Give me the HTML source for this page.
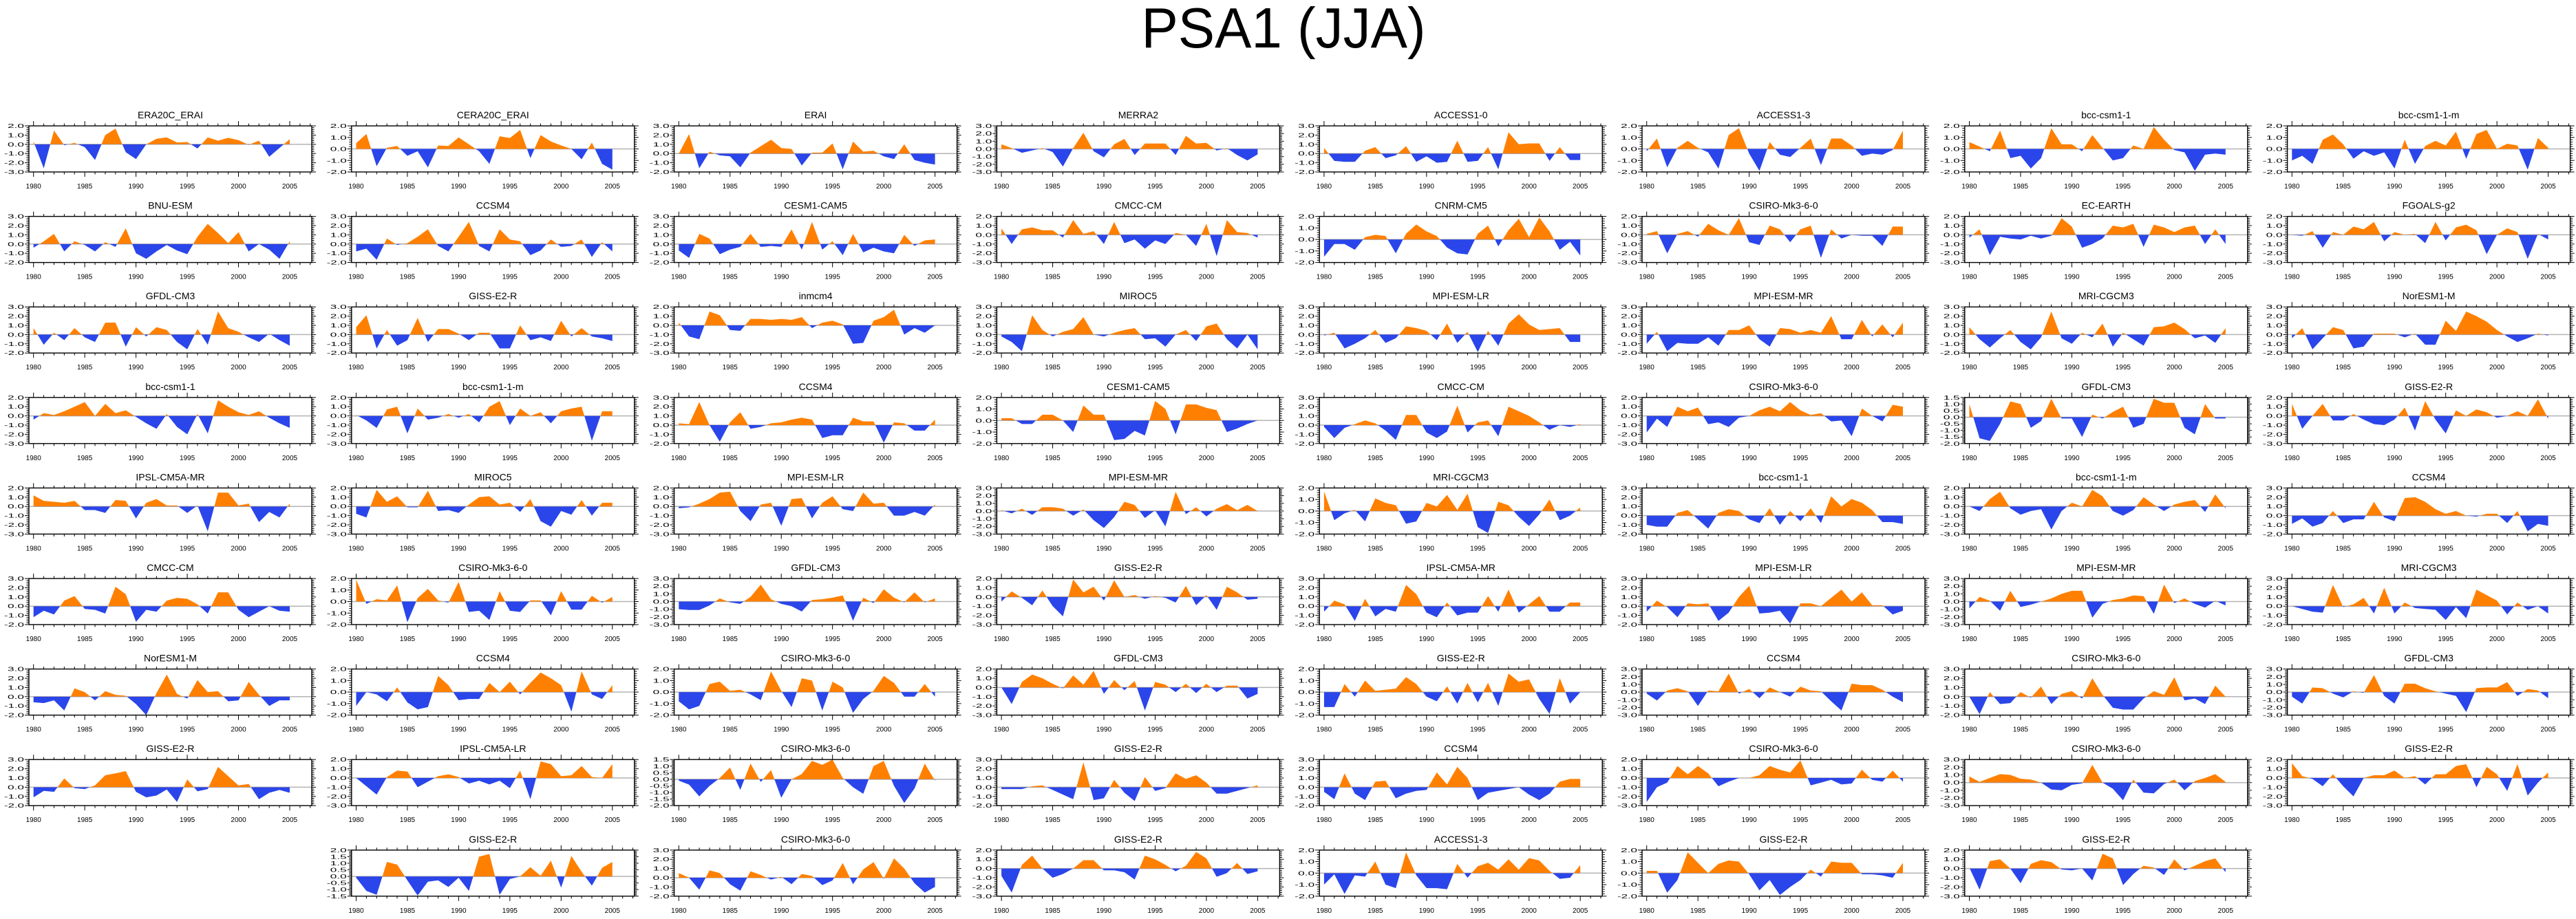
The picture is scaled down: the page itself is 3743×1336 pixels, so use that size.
<!DOCTYPE html>
<html>
<head>
<meta charset="utf-8">
<style>
  html, body { margin: 0; padding: 0; background: #fff; }
  svg { display: block; font-family: "Liberation Sans", Arial, sans-serif; }
</style>
</head>
<body>
<svg id="fig" width="3743" height="1336" viewBox="0 0 3743 1336" xmlns="http://www.w3.org/2000/svg">
  <rect x="0" y="0" width="3743" height="1336" fill="#ffffff"/>
  <text x="1865" y="69" font-size="83" text-anchor="middle" textLength="413" lengthAdjust="spacingAndGlyphs" fill="#000">PSA1 (JJA)</text>
  <g id="panels"></g>
</svg>
<script>
// ---------- data ----------
const years = [1980,1981,1982,1983,1984,1985,1986,1987,1988,1989,1990,1991,1992,1993,1994,1995,1996,1997,1998,1999,2000,2001,2002,2003,2004,2005];
const xTickLabels = ["1980","1985","1990","1995","2000","2005"];

const panelTitles = [
  "ERA20C_ERAI","CERA20C_ERAI","ERAI","MERRA2","ACCESS1-0","ACCESS1-3","bcc-csm1-1","bcc-csm1-1-m",
  "BNU-ESM","CCSM4","CESM1-CAM5","CMCC-CM","CNRM-CM5","CSIRO-Mk3-6-0","EC-EARTH","FGOALS-g2",
  "GFDL-CM3","GISS-E2-R","inmcm4","MIROC5","MPI-ESM-LR","MPI-ESM-MR","MRI-CGCM3","NorESM1-M",
  "bcc-csm1-1","bcc-csm1-1-m","CCSM4","CESM1-CAM5","CMCC-CM","CSIRO-Mk3-6-0","GFDL-CM3","GISS-E2-R",
  "IPSL-CM5A-MR","MIROC5","MPI-ESM-LR","MPI-ESM-MR","MRI-CGCM3","bcc-csm1-1","bcc-csm1-1-m","CCSM4",
  "CMCC-CM","CSIRO-Mk3-6-0","GFDL-CM3","GISS-E2-R","IPSL-CM5A-MR","MPI-ESM-LR","MPI-ESM-MR","MRI-CGCM3",
  "NorESM1-M","CCSM4","CSIRO-Mk3-6-0","GFDL-CM3","GISS-E2-R","CCSM4","CSIRO-Mk3-6-0","GFDL-CM3",
  "GISS-E2-R","IPSL-CM5A-LR","CSIRO-Mk3-6-0","GISS-E2-R","CCSM4","CSIRO-Mk3-6-0","CSIRO-Mk3-6-0","GISS-E2-R",
  "GISS-E2-R","CSIRO-Mk3-6-0","GISS-E2-R","ACCESS1-3","GISS-E2-R","GISS-E2-R"
];
const panelYMin = [
  -3,-2,-2,-3,-2,-2,-2,-2,
  -2,-2,-2,-3,-2,-3,-3,-3,
  -2,-2,-3,-2,-2,-2,-2,-2,
  -3,-3,-2,-2,-2,-3,-2,-3,
  -3,-3,-3,-3,-2,-2,-3,-2,
  -2,-2,-3,-3,-2,-2,-3,-2,
  -2,-2,-2,-3,-2,-3,-2,-3,
  -2,-3,-2,-2,-2,-3,-3,-3,
  -1.5,-2,-3,-2,-2,-3
];
const panelYMax = [
  2,2,3,3,3,2,2,2,
  3,3,3,2,2,2,2,2,
  3,3,2,3,3,3,3,3,
  2,2,3,2,3,2,1.5,2,
  2,2,2,3,2,3,2,3,
  3,2,3,2,3,3,3,3,
  3,2,2,2,2,3,3,3,
  3,2,1.5,3,3,2,3,2,
  2,3,2,2,2,2
];
const panelYStep = [
  1,1,1,1,1,1,1,1,
  1,1,1,1,1,1,1,1,
  1,1,1,1,1,1,1,1,
  1,1,1,1,1,1,0.5,1,
  1,1,1,1,1,1,1,1,
  1,1,1,1,1,1,1,1,
  1,1,1,1,1,1,1,1,
  1,1,0.5,1,1,1,1,1,
  0.5,1,1,1,1,1
];
const panelSeries = [
  [0.3,-2.6,1.5,-0.1,0.15,-0.3,-1.7,1.0,1.7,-0.85,-1.6,0.0,0.6,0.75,0.2,0.25,-0.45,0.75,0.4,0.7,0.45,-0.05,0.4,-1.35,-0.4,0.55],
  [0.5,1.3,-1.5,0.1,0.25,-0.6,-0.2,-1.6,0.3,0.25,1.0,0.4,-0.2,-1.3,1.1,0.95,1.65,-0.8,1.2,0.65,0.3,0.0,-0.9,0.55,-1.3,-1.8],
  [0.0,2.1,-1.6,0.2,-0.2,-0.3,-1.5,0.1,0.8,1.5,0.6,0.5,-1.3,0.1,0.1,1.1,-1.7,1.3,0.2,0.3,-0.3,-0.6,1.0,-0.7,-1.0,-1.2],
  [0.6,0.1,-0.5,-0.2,0.1,-0.4,-2.3,0.1,2.1,-0.3,-1.1,0.6,1.3,-0.8,0.7,0.7,0.7,-0.8,1.7,0.7,0.8,-0.2,0.1,-0.8,-1.5,-0.7],
  [0.6,-0.8,-0.9,-0.9,0.3,0.7,-0.5,-0.2,0.8,-0.9,-0.3,-1.0,-0.9,1.4,-0.9,-0.8,0.7,-1.7,2.3,1.0,1.1,1.1,-0.8,0.7,-0.7,-0.7],
  [-0.2,0.9,-1.6,0.1,0.7,0.1,-0.3,-1.7,1.2,1.8,-0.4,-1.9,0.6,-0.5,-0.7,0.1,0.9,-1.4,0.9,0.9,0.3,-0.6,-0.4,-0.5,-0.1,1.6],
  [0.6,0.2,-0.2,1.6,-0.8,-0.6,-1.7,-0.8,1.8,0.4,0.4,-0.2,1.2,0.1,-1.0,-0.8,0.3,0.0,1.9,0.8,-0.1,-0.3,-1.9,-0.5,-0.4,-0.5],
  [-1.0,-0.6,-1.3,0.8,1.25,0.4,-0.85,-0.2,-0.6,-0.3,-1.7,0.8,-1.3,0.25,0.7,0.3,1.5,-0.85,1.3,1.65,0.0,0.45,0.3,-1.8,0.95,0.1],

  [-0.4,0.3,1.1,-0.8,0.3,-0.1,-0.8,0.2,-0.3,1.7,-1.0,-1.6,-0.8,-0.1,-0.7,-1.1,0.8,2.2,1.2,0.1,1.3,-0.8,0.0,-0.6,-1.6,0.3],
  [-0.8,-0.5,-1.7,0.6,-0.1,0.1,0.8,1.6,-0.2,-0.8,0.8,2.4,-0.2,-0.8,1.6,0.5,0.3,-1.2,-0.7,0.5,-0.3,-0.2,0.5,-1.4,0.2,-0.8],
  [-0.7,-1.5,1.1,0.6,-1.1,-0.6,-0.3,1.1,-0.3,-0.2,-0.3,1.6,-0.6,2.4,-0.6,0.3,-1.2,1.1,-0.9,-0.4,-0.8,-1.0,1.0,-0.2,0.4,0.5],
  [0.7,-1.0,0.6,0.8,0.5,0.5,-0.3,1.6,0.1,0.4,-1.0,1.4,-0.9,-0.5,-1.5,-0.6,-1.0,0.2,0.0,-1.2,1.2,-2.3,1.6,0.3,0.2,-0.3],
  [-1.5,-0.4,-0.4,-0.9,0.2,0.4,0.3,-1.2,0.5,1.3,0.7,0.3,-0.7,-1.2,-1.3,0.5,1.2,-0.6,0.8,1.8,0.2,1.9,0.7,-0.9,-0.2,-1.4],
  [0.1,0.4,-2.0,0.1,0.4,-0.2,1.2,0.5,0.0,1.8,-0.8,-1.1,1.0,0.6,-0.8,0.6,1.0,-2.5,0.6,-0.4,0.0,-0.1,-0.1,-1.2,0.9,0.9],
  [-0.3,0.6,-2.2,-0.2,-0.4,-0.5,-0.1,-0.4,-0.1,1.8,0.9,-1.4,-1.0,-0.4,1.0,0.8,1.2,-1.3,1.1,0.8,0.3,0.8,1.0,-1.0,0.6,-1.0],
  [0.0,-0.1,0.4,-1.4,0.3,0.0,0.9,0.6,1.4,-0.7,0.3,0.0,0.1,-0.9,1.4,-0.6,0.8,1.1,0.5,-2.1,0.0,0.7,0.3,-2.6,0.1,-0.5],

  [0.7,-1.1,0.2,-0.6,0.7,-0.3,-0.8,1.3,1.3,-1.3,0.8,-0.2,0.8,0.5,-0.8,-1.6,0.6,-1.1,2.5,0.7,0.3,-0.3,-0.8,0.1,-0.6,-1.2],
  [0.8,2.1,-1.5,0.5,-1.2,-0.6,1.8,-0.8,0.6,0.6,0.1,-0.6,0.2,0.2,-1.5,-1.5,1.0,-0.6,-0.3,-0.7,1.5,-0.2,0.7,-0.2,-0.4,-0.7],
  [0.3,-1.2,-1.5,1.5,1.1,-0.5,-0.6,0.7,0.7,0.6,0.7,0.6,0.9,-0.3,0.3,0.5,0.1,-2.0,-1.9,0.5,0.9,1.7,-1.0,-0.3,-0.8,0.0],
  [-0.2,-0.8,-1.8,2.1,0.5,-0.2,0.3,0.6,1.9,0.0,-0.2,0.2,0.5,0.7,-0.5,-0.4,-1.3,0.0,0.5,-0.7,0.9,1.2,-0.5,-1.5,0.0,-1.6],
  [-0.1,0.2,-1.5,-1.0,-0.4,0.5,-0.9,-0.4,0.9,0.7,0.4,-0.6,1.2,-0.9,0.3,-1.9,0.4,-1.2,1.2,2.2,1.1,0.5,0.6,0.7,-0.8,-0.8],
  [-1.0,0.3,-1.8,-0.9,-1.0,-1.0,-0.3,-1.2,0.5,0.5,1.0,-0.5,-1.3,0.7,0.6,0.2,0.5,0.2,2.0,-0.5,-0.5,1.6,-0.2,1.1,-0.3,1.3],
  [0.8,-0.5,-1.4,-0.4,0.5,-0.8,-1.6,-0.3,2.5,-0.4,-1.0,0.2,-0.3,1.2,-1.3,0.2,-0.5,-1.2,0.8,0.9,1.3,0.6,-0.4,-0.1,-0.9,0.7],
  [-0.4,0.7,-1.6,-0.4,0.8,0.5,-1.5,-1.3,0.1,0.1,0.1,-0.3,0.1,-1.1,-1.1,1.5,0.4,2.5,2.0,1.4,0.5,-0.2,-0.8,-0.4,0.1,-0.1],

  [-0.4,0.3,0.1,0.5,1.0,1.5,0.0,1.3,0.3,0.6,-0.1,-0.8,-1.4,0.2,-1.2,-2.0,0.2,-1.9,1.7,1.0,0.4,0.1,0.5,-0.2,-0.8,-1.3],
  [0.1,-0.5,-1.3,0.7,1.0,-1.9,0.8,-0.4,-0.2,0.2,-0.2,0.2,-0.7,1.0,1.6,-1.0,0.8,0.0,0.4,-0.8,0.5,0.8,1.0,-2.7,0.5,0.5],
  [0.2,0.1,2.5,0.0,-1.8,0.3,1.4,-0.4,-0.2,0.2,0.3,0.6,0.8,0.6,-1.4,-1.1,-1.1,0.8,0.4,0.4,-1.9,0.3,0.2,-0.6,-0.6,0.6],
  [0.2,0.2,-0.3,-0.3,0.5,0.5,0.0,-1.0,1.3,0.5,0.5,-1.7,-1.6,-0.9,-1.3,1.7,1.0,-1.2,1.4,1.4,1.1,0.9,-1.0,-0.7,-0.3,0.0],
  [-0.2,-1.4,-0.3,0.1,0.5,0.2,-0.6,-1.6,1.1,1.1,-0.8,-1.4,-0.7,2.1,-0.8,0.3,0.5,-1.2,2.0,1.5,1.0,0.3,-0.5,0.0,-0.2,0.1],
  [-1.8,-0.3,-1.2,1.0,0.5,0.9,-0.9,-0.7,-1.2,-0.2,0.0,0.6,1.0,0.5,1.5,0.6,0.1,0.3,-0.6,-0.5,-2.2,0.8,0.0,-0.6,1.2,1.0],
  [1.0,-1.6,-1.8,-0.5,1.2,1.0,-0.8,-0.3,1.4,-0.1,-0.1,-1.5,0.2,-0.1,0.4,0.8,-0.8,-0.5,1.4,1.1,1.1,-0.8,-1.3,1.0,-0.1,-0.1],
  [1.3,-1.4,0.0,1.3,-0.5,-0.5,0.2,-0.4,-0.9,-1.0,-0.4,0.9,-1.6,1.6,-0.4,-1.9,0.6,0.0,0.7,0.4,-0.2,0.0,0.5,0.0,1.8,-0.3],

  [1.2,0.6,0.5,0.4,0.6,-0.4,-0.4,-0.7,0.7,0.6,-1.3,0.4,0.8,0.1,0.1,-0.7,0.1,-2.7,1.5,1.5,0.1,0.3,-1.7,-0.6,-1.2,0.3],
  [-0.8,-1.2,1.8,0.5,1.1,-0.1,-0.1,1.7,-0.5,-0.4,-0.7,0.2,1.0,1.1,0.2,0.4,-0.6,0.8,-1.6,-2.2,-0.5,-0.9,0.7,-1.0,0.4,0.4],
  [-0.2,-0.1,0.3,0.8,1.5,1.6,-0.5,-1.6,0.2,0.4,-2.1,0.8,0.9,-1.3,0.4,1.1,-0.3,-0.5,1.5,0.3,0.4,-1.0,-1.0,-0.6,-1.0,0.2],
  [0.1,-0.3,0.3,-0.5,0.5,0.5,0.3,-0.6,0.2,-1.2,-2.2,-0.8,1.2,0.8,-0.9,0.1,-2.0,2.5,-0.4,0.5,-0.7,0.3,0.9,0.1,0.8,0.0],
  [1.7,-0.8,-0.2,0.1,-0.9,1.1,0.7,0.5,-1.1,-0.9,0.7,0.4,1.4,0.1,1.5,-1.4,-1.9,0.8,0.5,-0.5,-1.3,-0.3,1.0,-0.8,-0.4,0.3],
  [-1.0,-1.2,-1.2,0.3,0.6,-0.4,-1.4,0.3,0.7,0.5,-0.4,-0.8,0.8,-1.0,0.5,-0.6,0.8,-0.8,2.1,1.0,1.8,1.4,0.6,-0.7,-0.7,-0.9],
  [0.0,-0.5,0.8,1.6,-0.2,-0.9,-0.5,-0.3,-2.5,-0.5,0.4,0.0,1.8,1.1,-0.5,-1.0,-0.4,1.0,0.2,-0.5,0.2,0.5,0.7,-0.6,1.3,-0.2],
  [-0.9,-0.3,-1.2,-0.8,0.5,-0.8,-0.4,-0.4,1.5,-0.2,-0.6,1.9,2.0,1.5,0.7,0.2,0.5,0.0,-0.1,0.2,0.2,-0.8,0.5,-1.7,-0.9,-1.1],

  [-1.2,-0.5,-0.9,0.6,1.1,-0.3,-0.4,-0.8,2.1,1.3,-1.7,-0.4,-0.6,0.6,0.9,0.8,0.2,-0.8,1.5,1.5,-0.4,-1.2,-0.6,0.0,-0.5,-0.6],
  [1.9,-0.2,0.2,0.1,1.4,-1.8,0.3,1.1,0.1,-0.1,1.7,-0.9,-0.8,-1.6,0.9,-0.8,-0.9,0.1,0.1,-1.2,0.9,-0.7,-0.7,0.5,-0.1,0.4],
  [-1.0,-1.1,-1.1,-0.5,0.4,-0.1,-0.3,0.6,2.2,0.3,-0.3,-0.6,-1.3,0.2,0.3,0.5,0.8,-2.5,0.5,-0.2,1.6,0.5,-0.1,1.2,-0.1,0.4],
  [-0.5,0.6,-0.1,-0.9,0.7,-1.0,-2.1,1.9,0.5,1.1,-0.4,1.8,0.0,0.2,-0.2,0.1,-0.1,-0.6,1.2,-0.9,0.2,-1.4,1.1,0.5,-0.3,-0.2],
  [-0.6,0.6,0.2,-1.6,0.8,-1.1,-0.3,-0.6,2.3,1.3,-0.7,-1.2,0.4,-1.0,-0.7,-0.7,1.1,-0.6,1.8,-0.7,0.2,1.1,-0.6,-0.6,0.4,0.4],
  [-0.6,0.6,-0.1,-1.2,0.3,0.2,0.3,-1.6,-0.7,1.0,2.2,-0.8,-0.7,-0.5,-1.9,0.3,0.3,0.0,0.9,1.8,0.5,1.5,0.1,0.1,-0.9,-0.5],
  [-0.9,0.6,0.1,-1.2,1.4,-0.7,-0.4,0.0,0.4,1.0,1.4,1.4,-2.1,-0.3,0.2,0.4,0.8,0.7,-1.6,2.2,-0.2,0.4,-0.3,-0.8,0.1,-0.5],
  [0.0,-0.3,-0.6,-0.7,2.3,-0.1,0.2,0.9,-0.8,2.0,-0.8,0.4,-0.2,-0.3,-0.4,-1.5,-0.1,-1.3,1.8,1.2,0.6,-0.9,0.4,-0.4,0.0,-0.8],

  [-0.6,-0.7,-0.4,-1.5,0.9,0.5,-0.4,0.6,0.2,0.1,-0.8,-2.0,0.4,2.4,0.3,-0.2,1.8,0.5,0.6,-0.5,-0.4,1.6,0.2,-1.0,-0.4,-0.4],
  [-1.2,0.0,-0.2,-0.8,0.4,-0.9,-1.5,-1.3,1.4,0.6,-0.7,-0.6,-0.6,0.8,0.0,0.9,-0.2,0.8,1.7,1.2,0.6,-1.7,1.8,-0.2,-0.6,0.6],
  [-0.8,-1.5,-1.2,0.7,0.9,0.1,0.2,-0.2,-0.7,1.8,0.1,-1.3,1.2,1.0,-1.6,0.9,0.4,-1.8,-0.6,0.1,1.4,0.8,-0.4,-0.4,0.7,-0.4],
  [0.0,-1.8,0.6,1.4,1.0,0.4,-0.1,1.3,0.3,1.8,-0.7,0.8,-0.3,0.7,-2.5,0.6,0.3,-0.5,0.4,-0.6,0.4,-0.5,0.2,0.2,-1.2,-0.7],
  [-1.3,-1.3,0.7,-0.4,1.0,0.1,0.2,0.3,1.3,0.7,-0.4,-0.8,0.5,-1.0,0.8,-0.9,0.8,-1.2,1.6,0.9,1.1,-0.6,-1.9,1.2,-1.0,0.0],
  [-0.2,-1.1,0.2,0.5,0.1,-1.8,0.2,0.1,2.4,-0.2,0.4,-0.8,0.6,0.0,-0.6,0.7,0.2,0.1,-1.2,-2.4,1.1,0.9,0.9,0.3,-0.6,-1.3],
  [0.0,-1.9,0.5,-0.8,-0.7,0.5,-0.1,1.1,-0.8,0.3,0.6,-0.2,2.0,0.2,-1.2,-1.4,-1.4,-0.2,0.6,0.2,2.1,-0.4,-0.2,-0.8,1.2,0.0],
  [-0.6,-1.5,0.6,0.5,-0.2,-0.7,0.1,-0.1,2.2,-0.5,-1.5,1.1,1.1,0.5,0.1,-0.2,-0.5,-2.6,0.5,0.6,0.6,1.3,-0.5,0.4,0.2,-0.8],

  [-1.1,-0.4,-0.5,0.95,-0.1,-0.2,0.2,1.3,1.5,1.75,-0.5,-1.1,-0.9,-0.25,-1.6,0.85,-0.45,-0.2,2.2,1.2,0.2,0.35,-1.3,-0.6,-0.3,-0.6],
  [0.0,-0.9,-1.8,0.1,0.8,0.7,-1.0,-0.4,0.2,0.4,0.1,-0.6,-0.3,-0.7,-0.3,-1.1,0.8,-2.3,1.8,1.5,0.2,0.3,1.3,0.1,0.0,1.5],
  [-0.1,-0.4,-1.3,-0.5,0.1,0.9,-0.8,1.2,-0.2,0.7,-1.4,0.0,0.4,1.4,1.1,1.5,0.1,-0.6,-1.1,1.0,1.4,-0.5,-1.8,-0.7,1.2,-0.1],
  [-0.2,-0.2,-0.2,0.1,0.2,-0.3,-0.8,-1.3,2.7,-1.4,-1.2,0.8,-0.6,-1.5,1.1,-0.4,-0.1,1.5,0.9,1.3,0.5,-0.7,-0.7,-0.4,-0.1,0.2],
  [-0.5,-1.3,1.5,-0.7,-1.4,0.6,0.7,-1.2,-0.7,-0.4,-0.3,1.6,0.3,2.2,1.0,-1.4,-0.6,-0.4,-0.2,0.0,-0.8,-1.4,-0.7,0.6,0.9,0.9],
  [-2.6,-1.0,-0.5,1.3,0.4,1.3,0.5,-0.9,-0.4,0.0,0.0,0.3,1.3,0.9,0.6,1.9,-0.8,-0.5,-0.2,-0.7,-0.6,0.9,-0.2,-0.4,0.8,-0.4],
  [0.8,0.1,0.6,1.1,1.0,0.5,0.4,0.0,-0.9,-1.0,-0.3,-0.1,2.3,0.0,-0.8,-2.3,0.4,-1.3,-1.4,-0.2,0.4,-1.0,0.2,0.6,1.1,0.1],
  [1.6,0.2,-0.1,-0.9,0.4,-0.9,-2.0,0.0,0.3,0.3,0.8,0.0,0.2,-0.7,0.4,0.4,1.3,1.5,-1.0,1.2,0.4,-1.4,1.5,-1.9,-0.5,0.6],

  [-0.1,-1.1,-1.4,1.1,0.9,-0.3,-1.45,-0.4,-0.3,-0.8,-0.1,-1.1,1.5,1.7,-1.4,-0.2,0.0,0.7,0.05,1.2,-0.85,1.55,0.35,-0.7,0.65,1.1],
  [0.5,0.0,-1.3,0.8,0.5,-0.7,-1.4,0.7,0.3,-0.2,0.1,-0.7,0.4,0.2,-0.8,-0.3,1.6,-0.7,0.9,1.7,-0.1,2.1,1.0,-0.6,-1.6,-1.0],
  [-0.8,-2.6,0.4,1.4,0.0,-1.0,-0.6,0.0,0.9,0.9,-0.2,-0.2,-0.4,-1.2,1.4,1.0,0.4,-0.3,0.3,1.8,1.1,-0.9,-0.5,0.6,-0.6,-0.3],
  [-1.0,-0.1,-1.8,-0.2,-0.3,1.0,-1.0,-1.3,1.8,-0.2,-1.3,-1.3,-1.4,0.8,-0.4,0.6,0.9,0.3,1.2,0.3,1.3,1.1,0.2,-0.5,-0.4,0.7],
  [0.2,0.2,-1.7,-0.6,1.8,0.9,0.0,0.8,1.1,1.0,-0.1,-1.5,-0.6,-1.9,-1.2,-0.6,0.3,-0.3,1.0,0.9,0.9,-0.1,-0.1,-0.2,-0.4,0.9],
  [0.1,-2.3,0.8,1.0,0.0,-1.6,0.5,0.9,0.7,-0.1,-0.2,0.0,-1.3,1.6,1.1,-1.8,-0.6,0.3,0.1,-0.7,1.0,-0.2,0.3,0.8,1.1,-0.4]
];

// ---------- layout ----------
const NS = "http://www.w3.org/2000/svg";
const GRID_LEFT = 42, COL_PITCH = 468.8, PLOT_W = 411;
const GRID_TOP = 183, ROW_PITCH = 131.6, PLOT_H = 67;
const X_MIN = 1979.55, X_MAX = 2007.15;
const ORANGE = "#ff8000", BLUE = "#2a45ea";

function mk(tag, attrs, parent) {
  const el = document.createElementNS(NS, tag);
  for (const k in attrs) el.setAttribute(k, attrs[k]);
  if (parent) parent.appendChild(el);
  return el;
}

const root = document.getElementById("panels");

panelSeries.forEach((series, i) => {
  let row, col;
  if (i < 64) { row = Math.floor(i / 8); col = i % 8; }
  else { row = 8; col = i - 64 + 1; }
  const left = GRID_LEFT + col * COL_PITCH;
  const top = GRID_TOP + row * ROW_PITCH;
  const ymin = panelYMin[i], ymax = panelYMax[i], ystep = panelYStep[i];
  const xs = yr => left + (yr - X_MIN) / (X_MAX - X_MIN) * PLOT_W;
  const ys = v => top + (ymax - v) / (ymax - ymin) * PLOT_H;
  const y0 = ys(0);

  const g = mk("g", {}, root);
  
  

  // title
  const t = mk("text", { x: left + PLOT_W / 2, y: top - 11, "font-size": 14, "text-anchor": "middle", fill: "#000" }, g);
  
  
  t.textContent = panelTitles[i];

  // clip paths
  const defs = mk("defs", {}, g);
  const cpU = mk("clipPath", { id: "cu" + i }, defs);
  mk("rect", { x: left, y: top, width: PLOT_W, height: Math.max(0, y0 - top) }, cpU);
  const cpD = mk("clipPath", { id: "cd" + i }, defs);
  mk("rect", { x: left, y: y0, width: PLOT_W, height: Math.max(0, top + PLOT_H - y0) }, cpD);

  // zero line
  const zl = mk("line", { x1: left, x2: left + PLOT_W, y1: y0, y2: y0, stroke: "#b4b4b4", "stroke-width": 1.5 }, g);
  
  

  // area polygon
  let pts = xs(years[0]).toFixed(2) + "," + y0.toFixed(2);
  series.forEach((v, k) => { pts += " " + xs(years[k]).toFixed(2) + "," + ys(v).toFixed(2); });
  pts += " " + xs(years[years.length - 1]).toFixed(2) + "," + y0.toFixed(2);
  const pos = mk("polygon", { points: pts, fill: ORANGE, "clip-path": "url(#cu" + i + ")" }, g);
  
  
  const neg = mk("polygon", { points: pts, fill: BLUE, "clip-path": "url(#cd" + i + ")" }, g);
  
  

  // frame
  const fr = mk("rect", { x: left, y: top, width: PLOT_W, height: PLOT_H, fill: "none", stroke: "#000", "stroke-width": 1.4 }, g);
  
  

  // x ticks
  const xt = mk("g", { stroke: "#000", "stroke-width": 1 }, g);
  
  
  for (let yr = 1980; yr <= 2007; yr++) {
    const major = (yr % 5 === 0);
    const len = major ? 7 : 3.5;
    const x = xs(yr);
    mk("line", { x1: x, x2: x, y1: top, y2: top - len }, xt);
    mk("line", { x1: x, x2: x, y1: top + PLOT_H, y2: top + PLOT_H + len }, xt);
  }
  xTickLabels.forEach(lbl => {
    const tx = mk("text", { x: xs(+lbl), y: top + PLOT_H + 24, "font-size": 10, "text-anchor": "middle", fill: "#000" }, g);
    
    
    tx.textContent = lbl;
  });

  // y ticks
  const yt = mk("g", { stroke: "#000", "stroke-width": 1 }, g);
  
  
  const minor = ystep / 5;
  const n = Math.round((ymax - ymin) / minor);
  for (let k = 0; k <= n; k++) {
    const v = ymin + k * minor;
    const major = (k % 5 === 0);
    const len = major ? 6 : 3.5;
    const y = ys(v);
    mk("line", { x1: left, x2: left - len, y1: y, y2: y }, yt);
    mk("line", { x1: left + PLOT_W, x2: left + PLOT_W + len, y1: y, y2: y }, yt);
    if (major) {
      const s = v.toFixed(1).replace("-0.0", "0.0");
      const ty = mk("text", { x: left - 7, y: y + 3, "font-size": 8.5, "text-anchor": "end", fill: "#000",
        textLength: s.startsWith("-") ? 29 : 24, lengthAdjust: "spacingAndGlyphs" }, g);
      
      
      ty.textContent = s;
    }
  }
});
</script>
</body>
</html>
